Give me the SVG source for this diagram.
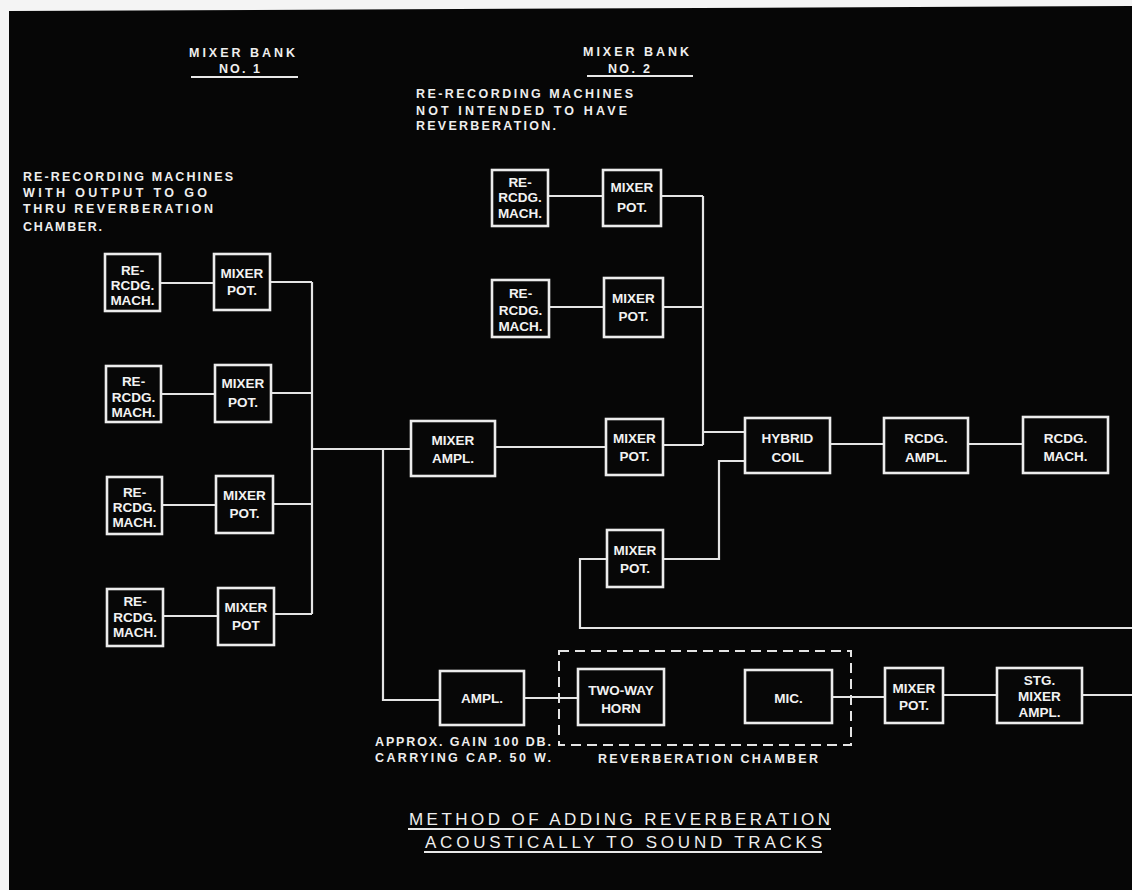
<svg xmlns="http://www.w3.org/2000/svg" width="1132" height="890" viewBox="0 0 1132 890">
<style>
.box{fill:#070707;stroke:#ececec;stroke-width:2.6}
.wire{fill:none;stroke:#e4e4e4;stroke-width:2.2}
.dash{fill:none;stroke:#e4e4e4;stroke-width:2;stroke-dasharray:10 6}
.lbl{font-family:"Liberation Sans",Arial,sans-serif;font-weight:bold;font-size:13.5px;fill:#f2f2f2;text-anchor:middle}
.note{font-family:"Liberation Sans",Arial,sans-serif;font-weight:bold;font-size:12.5px;fill:#eeeeee}
.title{font-family:"Liberation Sans",Arial,sans-serif;font-size:17px;fill:#eeeeee}
.ul{stroke:#e8e8e8;stroke-width:1.8}
</style>
<rect width="1132" height="890" fill="#f4f4f4"/>
<polygon points="9,11 1132,6 1132,890 9,890" fill="#060606"/>

<g id="annotations">
<text class="note" x="189" y="57" textLength="106" lengthAdjust="spacing">MIXER BANK</text>
<text class="note" x="219" y="73" textLength="41" lengthAdjust="spacing">NO. 1</text>
<line class="ul" x1="191" y1="77" x2="298" y2="77"/>
<text class="note" x="583" y="56" textLength="106" lengthAdjust="spacing">MIXER BANK</text>
<text class="note" x="608" y="73" textLength="42" lengthAdjust="spacing">NO. 2</text>
<line class="ul" x1="587" y1="76" x2="693" y2="76"/>
<text class="note" x="416" y="98" textLength="217" lengthAdjust="spacing">RE-RECORDING MACHINES</text>
<text class="note" x="416" y="115" textLength="211" lengthAdjust="spacing">NOT INTENDED TO HAVE</text>
<text class="note" x="416" y="130" textLength="140" lengthAdjust="spacing">REVERBERATION.</text>
<text class="note" x="23" y="181" textLength="210" lengthAdjust="spacing">RE-RECORDING MACHINES</text>
<text class="note" x="23" y="197" textLength="184" lengthAdjust="spacing">WITH OUTPUT TO GO</text>
<text class="note" x="23" y="213" textLength="190" lengthAdjust="spacing">THRU REVERBERATION</text>
<text class="note" x="23" y="231" textLength="79" lengthAdjust="spacing">CHAMBER.</text>
<text class="note" x="375" y="746" textLength="176" lengthAdjust="spacing">APPROX. GAIN 100 DB.</text>
<text class="note" x="375" y="762" textLength="176" lengthAdjust="spacing">CARRYING CAP. 50 W.</text>
<text class="note" x="598" y="763" textLength="220" lengthAdjust="spacing">REVERBERATION CHAMBER</text>
<text class="title" x="409" y="825" textLength="421" lengthAdjust="spacing">METHOD OF ADDING REVERBERATION</text>
<line class="ul" x1="408" y1="829" x2="831" y2="829"/>
<text class="title" x="425" y="848" textLength="397" lengthAdjust="spacing">ACOUSTICALLY TO SOUND TRACKS</text>
<line class="ul" x1="424" y1="852" x2="822" y2="852"/>
</g>

<g id="connectors">
<path class="wire" d="M160,283 H214 M161,394 H215 M162,505 H216 M163,616 H218"/>
<path class="wire" d="M270,282 H312 M271,393 H312 M273,504 H312 M274,614 H312 M312,282 V614"/>
<path class="wire" d="M312,449 H411 M383,449 V700 H440"/>
<path class="wire" d="M495,447 H606"/>
<path class="wire" d="M548,196 H603 M549,307 H604 M661,196 H703 M663,307 H703 M703,196 V445 M663,445 H703 M703,432 H745"/>
<path class="wire" d="M663,559 H719 V461 H745"/>
<path class="wire" d="M607,559 H580 V628 H1132"/>
<path class="wire" d="M830,444 H884 M968,444 H1023"/>
<path class="wire" d="M524,698 H578"/>
<path class="wire" d="M832,697 H885 M943,695 H997 M1082,695 H1132"/>
<rect id="reverb-chamber" class="dash" x="559" y="651" width="292" height="94"/>
</g>

<g id="re1"><rect class="box" x="105" y="254" width="55" height="57"/><text class="lbl" x="132.5" y="275">RE-</text><text class="lbl" x="132.5" y="290">RCDG.</text><text class="lbl" x="132.5" y="305">MACH.</text></g>
<g id="mp1"><rect class="box" x="214" y="254" width="56" height="56"/><text class="lbl" x="242" y="278">MIXER</text><text class="lbl" x="242" y="295">POT.</text></g>
<g id="re2"><rect class="box" x="106" y="366" width="55" height="56"/><text class="lbl" x="133.5" y="386">RE-</text><text class="lbl" x="133.5" y="402">RCDG.</text><text class="lbl" x="133.5" y="417">MACH.</text></g>
<g id="mp2"><rect class="box" x="215" y="365" width="56" height="57"/><text class="lbl" x="243" y="388">MIXER</text><text class="lbl" x="243" y="407">POT.</text></g>
<g id="re3"><rect class="box" x="107" y="477" width="55" height="57"/><text class="lbl" x="134.5" y="497">RE-</text><text class="lbl" x="134.5" y="512">RCDG.</text><text class="lbl" x="134.5" y="527">MACH.</text></g>
<g id="mp3"><rect class="box" x="216" y="476" width="57" height="57"/><text class="lbl" x="244.5" y="500">MIXER</text><text class="lbl" x="244.5" y="518">POT.</text></g>
<g id="re4"><rect class="box" x="107" y="589" width="56" height="57"/><text class="lbl" x="135" y="606">RE-</text><text class="lbl" x="135" y="622">RCDG.</text><text class="lbl" x="135" y="637">MACH.</text></g>
<g id="mp4"><rect class="box" x="218" y="588" width="56" height="57"/><text class="lbl" x="246" y="612">MIXER</text><text class="lbl" x="246" y="630">POT</text></g>

<g id="re5"><rect class="box" x="492" y="170" width="56" height="56"/><text class="lbl" x="520" y="187">RE-</text><text class="lbl" x="520" y="202">RCDG.</text><text class="lbl" x="520" y="218">MACH.</text></g>
<g id="mp5"><rect class="box" x="603" y="170" width="58" height="56"/><text class="lbl" x="632" y="192">MIXER</text><text class="lbl" x="632" y="212">POT.</text></g>
<g id="re6"><rect class="box" x="492" y="280" width="57" height="57"/><text class="lbl" x="520.5" y="298">RE-</text><text class="lbl" x="520.5" y="315">RCDG.</text><text class="lbl" x="520.5" y="331">MACH.</text></g>
<g id="mp6"><rect class="box" x="604" y="278" width="59" height="59"/><text class="lbl" x="633.5" y="303">MIXER</text><text class="lbl" x="633.5" y="321">POT.</text></g>

<g id="mixer-ampl"><rect class="box" x="411" y="421" width="84" height="55"/><text class="lbl" x="453" y="445">MIXER</text><text class="lbl" x="453" y="463">AMPL.</text></g>
<g id="mp7"><rect class="box" x="606" y="419" width="57" height="56"/><text class="lbl" x="634.5" y="443">MIXER</text><text class="lbl" x="634.5" y="461">POT.</text></g>
<g id="mp8"><rect class="box" x="607" y="530" width="56" height="57"/><text class="lbl" x="635" y="555">MIXER</text><text class="lbl" x="635" y="573">POT.</text></g>
<g id="hybrid"><rect class="box" x="745" y="418" width="85" height="55"/><text class="lbl" x="787.5" y="443">HYBRID</text><text class="lbl" x="787.5" y="462">COIL</text></g>
<g id="rcdg-ampl"><rect class="box" x="884" y="418" width="84" height="55"/><text class="lbl" x="926" y="443">RCDG.</text><text class="lbl" x="926" y="462">AMPL.</text></g>
<g id="rcdg-mach"><rect class="box" x="1023" y="417" width="85" height="56"/><text class="lbl" x="1065.5" y="443">RCDG.</text><text class="lbl" x="1065.5" y="461">MACH.</text></g>

<g id="ampl"><rect class="box" x="440" y="671" width="84" height="54"/><text class="lbl" x="482" y="703">AMPL.</text></g>
<g id="horn"><rect class="box" x="578" y="669" width="86" height="56"/><text class="lbl" x="621" y="695">TWO-WAY</text><text class="lbl" x="621" y="713">HORN</text></g>
<g id="mic"><rect class="box" x="745" y="670" width="87" height="53"/><text class="lbl" x="788.5" y="703">MIC.</text></g>
<g id="mp9"><rect class="box" x="885" y="668" width="58" height="55"/><text class="lbl" x="914" y="693">MIXER</text><text class="lbl" x="914" y="710">POT.</text></g>
<g id="stg"><rect class="box" x="997" y="668" width="85" height="55"/><text class="lbl" x="1039.5" y="685">STG.</text><text class="lbl" x="1039.5" y="701">MIXER</text><text class="lbl" x="1039.5" y="717">AMPL.</text></g>
</svg>
